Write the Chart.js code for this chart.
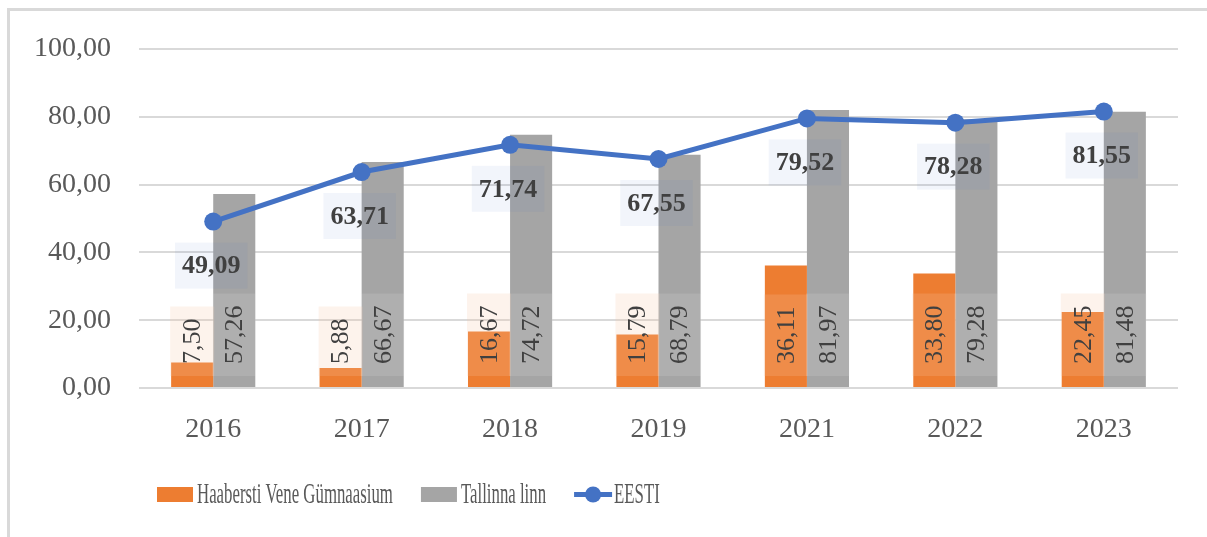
<!DOCTYPE html>
<html>
<head>
<meta charset="utf-8">
<style>
  html, body { margin: 0; padding: 0; background: #fff; }
  #wrap { width: 1207px; height: 537px; }
</style>
</head>
<body>
<div id="wrap">
  <canvas id="myChart" width="1207" height="537"></canvas>
</div>

<script src="https://cdn.jsdelivr.net/npm/chart.js"></script>
<script>
  // data
  const years = ['2016', '2017', '2018', '2019', '2021', '2022', '2023']
  const haabersti = [7.50, 5.88, 16.67, 15.79, 36.11, 33.80, 22.45]
  const tallinn = [57.26, 66.67, 74.72, 68.79, 81.97, 79.28, 81.48]
  const eesti = [49.09, 63.71, 71.74, 67.55, 79.52, 78.28, 81.55]
  const yTicks = [0, 20, 40, 60, 80, 100]

  const serif = "'Liberation Serif', 'Times New Roman', serif"
  const fmt = v => v.toFixed(2).replace('.', ',')

  const orange = '#ED7D31'
  const gray = '#A5A5A5'
  const blue = '#4472C4'

  // frame + white background
  const frame = {
    id: 'frame',
    beforeDraw: (chart) => {
      const {ctx} = chart
      ctx.save()
      ctx.fillStyle = '#fff'
      ctx.fillRect(0, 0, chart.width, chart.height)
      ctx.strokeStyle = '#d9d9d9'
      ctx.lineWidth = 3
      ctx.beginPath()
      ctx.moveTo(8.5, chart.height)
      ctx.lineTo(8.5, 9.5)
      ctx.lineTo(chart.width, 9.5)
      ctx.stroke()
      ctx.restore()
    }
  }

  // data labels like Excel
  const labels = {
    id: 'labels',
    afterDatasetsDraw: (chart) => {
      const {ctx} = chart
      ctx.save()

      // bar labels, rotated, at the base
      const boxFill = ['rgba(245,198,164,0.21)', 'rgba(235,235,235,0.15)']
      ;[0, 1].forEach(di => {
        const meta = chart.getDatasetMeta(di)
        const data = chart.data.datasets[di].data
        meta.data.forEach((bar, i) => {
          ctx.save()
          ctx.translate(bar.x, bar.base - 23)
          ctx.rotate(-Math.PI / 2)
          ctx.font = '26px ' + serif
          const txt = fmt(data[i])
          const tw = ctx.measureText(txt).width
          ctx.fillStyle = boxFill[di]
          ctx.fillRect(-12, -22, tw + 24, 44)
          ctx.fillStyle = '#404040'
          ctx.textAlign = 'left'
          ctx.textBaseline = 'middle'
          ctx.fillText(txt, 0, 1)
          ctx.restore()
        })
      })

      // line labels below the points
      const lmeta = chart.getDatasetMeta(2)
      const ldata = chart.data.datasets[2].data
      lmeta.data.forEach((pt, i) => {
        const txt = fmt(ldata[i])
        ctx.font = 'bold 26px ' + serif
        const tw = ctx.measureText(txt).width
        const cx = pt.x - 2
        const cy = pt.y + 44
        ctx.fillStyle = 'rgba(68,114,196,0.07)'
        ctx.fillRect(cx - tw / 2 - 7, cy - 23, tw + 14, 46)
        ctx.fillStyle = '#404040'
        ctx.textAlign = 'center'
        ctx.textBaseline = 'middle'
        ctx.fillText(txt, cx, cy + 1)
      })

      ctx.restore()
    }
  }

  // legend drawn by hand (the original text is condensed)
  const legend = {
    id: 'hlegend',
    afterDraw: (chart) => {
      const {ctx} = chart
      const y = 494.5
      const sx = 0.56
      ctx.save()
      ctx.font = '30px ' + serif
      ctx.textBaseline = 'middle'
      ctx.fillStyle = '#595959'

      const items = chart.data.datasets.map(d => d.label)
      let x = 157
      items.forEach((name, i) => {
        const ds = chart.data.datasets[i]
        if (ds.type === 'line') {
          ctx.strokeStyle = blue
          ctx.lineWidth = 5
          ctx.beginPath()
          ctx.moveTo(x, y)
          ctx.lineTo(x + 38, y)
          ctx.stroke()
          ctx.fillStyle = blue
          ctx.beginPath()
          ctx.arc(x + 19, y, 8, 0, Math.PI * 2)
          ctx.fill()
        } else {
          ctx.fillStyle = ds.backgroundColor
          ctx.fillRect(x, y - 7.5, 36, 15)
        }
        const tx = x + 40
        const tw = ctx.measureText(name).width * sx
        ctx.save()
        ctx.fillStyle = '#595959'
        ctx.translate(tx, y + 1)
        ctx.scale(sx, 1)
        ctx.fillText(name, 0, 0)
        ctx.restore()
        x = tx + tw + 28
      })
      ctx.restore()
    }
  }

  const ctx = document.getElementById('myChart')

  new Chart(ctx, {
    data: {
      labels: years,
      datasets: [
        {
          type: 'bar',
          label: 'Haabersti Vene Gümnaasium',
          data: haabersti,
          backgroundColor: orange,
          borderWidth: 0,
          order: 2,
          categoryPercentage: 0.567,
          barPercentage: 1
        },
        {
          type: 'bar',
          label: 'Tallinna linn',
          data: tallinn,
          backgroundColor: gray,
          borderWidth: 0,
          order: 2,
          categoryPercentage: 0.567,
          barPercentage: 1
        },
        {
          type: 'line',
          label: 'EESTI',
          data: eesti,
          borderColor: blue,
          backgroundColor: blue,
          borderWidth: 5,
          pointRadius: 9,
          pointHoverRadius: 9,
          pointBackgroundColor: blue,
          pointBorderWidth: 0,
          tension: 0,
          order: 0
        }
      ]
    },
    options: {
      responsive: false,
      animation: false,
      devicePixelRatio: 1,
      layout: {
        padding: {top: 49, right: 29, bottom: 100, left: 0}
      },
      scales: {
        x: {
          grid: {display: false, drawTicks: false},
          border: {display: false},
          ticks: {
            color: '#595959',
            font: {family: serif, size: 28},
            padding: 25
          },
          afterFit: (scale) => { scale.height = 49 }
        },
        y: {
          min: 0,
          max: 100,
          afterBuildTicks: (scale) => { scale.ticks = yTicks.map(v => ({value: v})) },
          grid: {color: '#d9d9d9', lineWidth: 2, drawTicks: false},
          border: {display: false},
          ticks: {
            color: '#595959',
            font: {family: serif, size: 28},
            padding: 28,
            callback: (v) => fmt(v)
          },
          afterFit: (scale) => { scale.width = 139 }
        }
      },
      plugins: {
        legend: {display: false},
        tooltip: {enabled: false}
      }
    },
    plugins: [frame, labels, legend]
  })
</script>
</body>
</html>
